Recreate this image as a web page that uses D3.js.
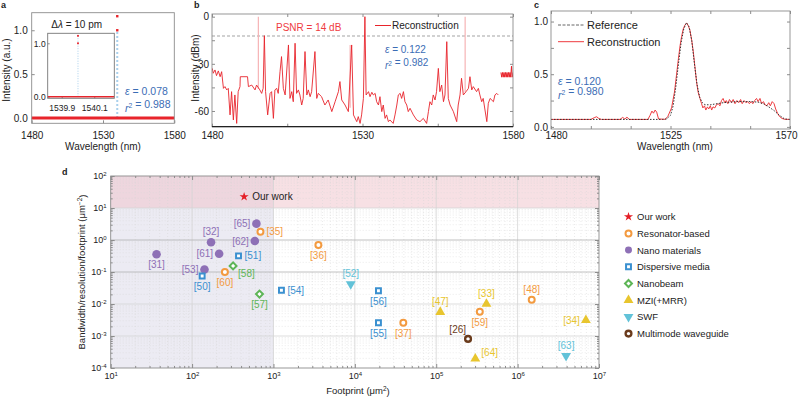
<!DOCTYPE html>
<html>
<head>
<meta charset="utf-8">
<script src="https://cdn.jsdelivr.net/npm/d3@7"></script>
<style>
  body { margin: 0; background: #fff; }
  svg { font-family: "Liberation Sans", Arial, sans-serif; }
</style>
</head>
<body>
<svg id="fig" width="800" height="398"></svg>
<script>
"use strict";

// ---------- panel a : narrow line ----------
const aRange = [1480, 1580];
const aTicks = [1480, 1530, 1580];
const aBaseline = [[1480, 0], [1580, 0]];
const aPeakLambda = 1540;
const aPeaks = [1.0, 1.16];
const insetRange = [1539.814, 1540.223];
const insetTicks = [1539.9, 1540.1];
const insetBaseline = [[1539.814, 0], [1540.223, 0]];
const insetPeakLambda = 1540.0;
const insetPeaks = [1.0, 1.14];

// ---------- panel b : reconstruction in dBm ----------
const bTicks = [1480, 1505, 1530, 1555, 1580];
const bYTicks = [0, -15, -30, -45, -60];
const bPsnrLevel = -12.3;
const bSeries = [
  [1480.1, -32.9], [1480.4, -36.0], [1481.0, -33.9], [1481.5, -37.5], [1482.1, -34.5], [1482.7, -38.2],
  [1483.2, -35.0], [1483.8, -45.6], [1484.3, -44.5], [1484.9, -46.6], [1485.4, -45.6], [1486.0, -62.5],
  [1486.5, -47.7], [1487.1, -65.7], [1487.6, -49.8], [1488.2, -67.9], [1488.7, -47.7], [1489.3, -44.5],
  [1489.4, -38.2], [1491.8, -38.2], [1492.1, -44.5], [1493.2, -43.5], [1494.3, -46.6], [1494.8, -43.5],
  [1495.9, -46.6], [1496.5, -48.8], [1497.0, -45.6], [1497.4, -12.1], [1497.8, -47.7], [1498.5, -62.5],
  [1499.3, -48.8], [1499.8, -47.7], [1500.4, -64.7], [1500.9, -46.6], [1501.5, -45.6], [1502.0, -48.8],
  [1502.6, -35.0], [1503.1, -25.4], [1503.7, -45.6], [1504.3, -49.8], [1505.4, -18.0], [1505.9, -52.0],
  [1506.5, -47.7], [1507.0, -54.1], [1507.6, -16.9], [1508.1, -48.8], [1508.7, -46.6], [1509.2, -49.8],
  [1509.8, -56.2], [1510.3, -52.0], [1510.9, -22.2], [1511.5, -49.8], [1512.0, -46.6], [1512.6, -50.9],
  [1513.1, -47.7], [1514.2, -22.2], [1514.8, -52.0], [1515.3, -48.8], [1516.4, -50.9], [1517.5, -56.2],
  [1518.6, -53.0], [1519.8, -60.4], [1520.9, -54.1], [1522.0, -47.7], [1522.5, -41.3], [1523.1, -53.0],
  [1524.2, -56.2], [1525.3, -60.4], [1526.4, -18.0], [1527.0, -62.5], [1528.1, -66.8], [1528.6, -63.6],
  [1529.2, -67.9], [1529.7, -62.5], [1530.3, -52.0], [1530.8, 0.0], [1531.2, -49.8], [1532.0, -47.7],
  [1532.5, -50.9], [1533.1, -48.1], [1533.6, -49.8], [1534.2, -48.8], [1534.7, -54.1], [1535.3, -56.2],
  [1535.8, -50.9], [1536.4, -60.4], [1536.9, -56.2], [1537.5, -64.7], [1538.0, -62.5], [1538.6, -66.8],
  [1539.1, -65.7], [1540.2, -67.9], [1540.8, -62.5], [1541.4, -56.2], [1541.9, -49.8], [1542.5, -48.8],
  [1543.0, -52.0], [1543.6, -47.7], [1544.1, -54.1], [1544.7, -56.2], [1545.2, -60.4], [1545.8, -58.3],
  [1546.9, -62.5], [1548.0, -65.7], [1549.1, -66.8], [1550.2, -64.7], [1551.3, -67.9], [1551.9, -60.4],
  [1552.4, -54.1], [1553.0, -56.2], [1553.5, -49.8], [1554.1, -53.0], [1554.6, -47.7], [1555.2, -32.9],
  [1555.7, -47.7], [1556.3, -43.5], [1556.9, -54.1], [1557.4, -49.8], [1558.0, -15.9], [1558.5, -52.0],
  [1559.1, -56.2], [1560.2, -60.4], [1561.3, -66.8], [1561.8, -56.2], [1562.4, -49.8], [1562.9, -39.2],
  [1563.5, -49.8], [1564.4, -47.7], [1565.2, -45.6], [1565.7, -38.2], [1566.3, -46.6], [1566.8, -44.5],
  [1567.9, -47.7], [1568.5, -45.6], [1569.0, -49.8], [1569.6, -54.1], [1570.1, -52.0], [1571.3, -66.8],
  [1571.8, -55.1], [1572.4, -52.0], [1573.5, -54.1], [1574.0, -49.8], [1574.6, -48.8], [1575.1, -49.8]
];
const bTail = [
  [1576.0, -35.5], [1576.25, -38.5], [1576.5, -35.5], [1576.75, -38.5], [1577.0, -35.5], [1577.25, -38.5],
  [1577.5, -35.5], [1577.75, -38.5], [1578.0, -35.5], [1578.25, -38.5], [1578.5, -35.5], [1578.75, -38.5],
  [1579.0, -35.5], [1579.25, -38.5], [1579.5, -31.5], [1579.75, -38.5], [1580.0, -35.5]
];
// faint spikes: [wavelength, top, foot]
const bPale = [[1495.4, 0, -46], [1525.9, -18, -58], [1564.1, 0, -48]];

// ---------- panel c : broadband spectrum ----------
const cTicks = [1480, 1495, 1510, 1525, 1540, 1555, 1570];
const cYTicks = [0, 0.25, 0.5, 0.75, 1.0];
const cReference = [
  [1480, 0.071], [1522, 0.071], [1523.5, 0.075], [1525, 0.11], [1526, 0.2], [1527, 0.38], [1528, 0.6],
  [1529, 0.8], [1530, 0.93], [1531, 0.99], [1532, 0.95], [1533, 0.82], [1534, 0.6], [1535, 0.4],
  [1536, 0.28], [1537, 0.23], [1538, 0.21], [1540, 0.21], [1545, 0.23], [1550, 0.24], [1555, 0.24],
  [1558, 0.235], [1560, 0.22], [1562, 0.19], [1564, 0.155], [1566, 0.11], [1568, 0.075], [1570, 0.071]
];
const cReconstruction = [
  [1480, 0.071], [1495, 0.071], [1496.5, 0.09], [1497.2, 0.096], [1498, 0.08], [1499, 0.071],
  [1506, 0.071], [1507, 0.09], [1507.8, 0.075], [1508.6, 0.092], [1509.5, 0.071], [1516.5, 0.071],
  [1517.3, 0.11], [1518, 0.15], [1518.6, 0.13], [1519.2, 0.16], [1519.8, 0.14], [1520.5, 0.075],
  [1523, 0.072], [1524, 0.1], [1525.4, 0.18], [1526.5, 0.33], [1527.3, 0.5], [1528, 0.65], [1528.6, 0.77],
  [1529.2, 0.86], [1529.8, 0.93], [1530.5, 0.97], [1531.1, 0.985], [1531.7, 0.96], [1532.3, 0.92],
  [1533, 0.82], [1533.6, 0.71], [1534.2, 0.57], [1534.8, 0.43], [1535.4, 0.33], [1536.1, 0.27],
  [1536.7, 0.22], [1537.2, 0.18], [1537.8, 0.2], [1538.3, 0.16], [1538.9, 0.19], [1539.4, 0.17],
  [1540, 0.2], [1540.5, 0.16], [1541, 0.19], [1541.7, 0.18], [1542.3, 0.21], [1543, 0.22], [1543.6, 0.2],
  [1544.2, 0.25], [1544.8, 0.27], [1545.4, 0.23], [1546, 0.25], [1546.6, 0.22], [1547.2, 0.26],
  [1548, 0.23], [1548.6, 0.26], [1549.3, 0.22], [1550, 0.25], [1550.7, 0.23], [1551.4, 0.26], [1552, 0.22],
  [1552.7, 0.25], [1553.4, 0.23], [1554, 0.24], [1554.7, 0.22], [1555.4, 0.24], [1556, 0.22],
  [1556.7, 0.25], [1557.4, 0.27], [1558, 0.24], [1558.7, 0.27], [1559.3, 0.22], [1560, 0.24],
  [1560.6, 0.21], [1561.3, 0.2], [1562, 0.23], [1562.6, 0.2], [1563.3, 0.24], [1564, 0.22],
  [1564.6, 0.17], [1565.3, 0.13], [1566, 0.1], [1567, 0.08], [1568, 0.072], [1570, 0.071]
];

// ---------- panel d : footprint comparison [ref, footprint um^2, bandwidth/resolution/footprint] ----------
const ourWork = [["Our work", 436, 22.5]];
const resonator = [["35", 692, 1.82], ["36", 3565, 0.70], ["60", 253, 0.10], ["37", 39400, 0.0026], ["59", 343000, 0.0057], ["48", 1490000, 0.0136]];
const nanoMaterials = [["65", 617, 3.24], ["62", 590, 0.93], ["32", 171, 0.85], ["61", 215, 0.37], ["31", 36.6, 0.36], ["53", 142, 0.12]];
const dispersive = [["51", 372, 0.32], ["50", 133, 0.075], ["54", 1253, 0.027], ["56", 19500, 0.026], ["55", 19500, 0.0026]];
const nanobeam = [["58", 319, 0.155], ["57", 673, 0.0204]];
const mzi = [["47", 112000, 0.0056], ["33", 414000, 0.01], ["34", 6900000, 0.0031], ["64", 302000, 0.000195]];
const swf = [["52", 8900, 0.042], ["63", 3940000, 0.00024]];
const multimode = [["26", 246000, 0.00081]];
const groupNames = ["Our work", "Resonator-based", "Nano materials", "Dispersive media", "Nanobeam", "MZI(+MRR)", "SWF", "Multimode waveguide"];
const labelSide = {
  "35": "r", "36": "b", "60": "b", "37": "b", "59": "b", "48": "t",
  "65": "l", "62": "l", "32": "t", "61": "l", "31": "b", "53": "l",
  "51": "r", "50": "b", "54": "r", "56": "b", "55": "b",
  "58": "br", "57": "b", "47": "t", "33": "t", "34": "l", "64": "tr",
  "52": "t", "63": "t", "26": "tl"
};

// ---------- drawing ----------
const svg = d3.select("#fig");
const RED = "#e8242b", BLUE = "#3b6db5", FRAME = "#8c8c8c", INK = "#222";

function styleAxis(sel, size) {
  sel.attr("font-family", null).attr("font-size", size || 10);
  sel.select(".domain").remove();
  sel.selectAll(".tick line").attr("stroke", FRAME);
  sel.selectAll(".tick text").attr("fill", INK);
}

function frame(g, x, y, stroke) {
  g.append("rect")
    .attr("x", x.range()[0]).attr("y", y.range()[1])
    .attr("width", x.range()[1] - x.range()[0])
    .attr("height", y.range()[0] - y.range()[1])
    .attr("fill", "none").attr("stroke", stroke || FRAME).attr("stroke-width", 0.9);
}

function letter(x, y, s) {
  svg.append("text").attr("x", x).attr("y", y).attr("font-size", 9).attr("font-weight", "bold").attr("fill", INK).text(s);
}

function stat(g, x, y, sym, val, color, size) {
  const t = g.append("text").attr("x", x).attr("y", y).attr("fill", color).attr("font-size", size || 10.5);
  if (sym === "e") {
    t.append("tspan").attr("font-style", "italic").text("\u03b5");
  } else {
    t.append("tspan").attr("font-style", "italic").text("r");
    t.append("tspan").attr("dy", "-0.45em").attr("font-size", "0.65em").text("2");
    t.append("tspan").attr("dy", "0.45em").text("");
  }
  t.append("tspan").text(" = " + val);
}

function yTitle(g, x, y, s, size) {
  g.append("text").attr("transform", "translate(" + x + "," + y + ") rotate(-90)")
    .attr("text-anchor", "middle").attr("font-size", size || 10).attr("fill", INK).text(s);
}

// ===== panel a =====
(function () {
  const g = svg.append("g");
  const x = d3.scaleLinear().domain(aRange).range([31.7, 174.3]);
  const y = d3.scaleLinear().domain([-0.06, 1.2]).range([123.3, 12.7]);
  const line = d3.line().x(d => x(d[0])).y(d => y(d[1]));

  g.append("g").attr("transform", "translate(0,123.3)")
    .call(d3.axisBottom(x).tickValues(aTicks).tickFormat(d3.format("d")).tickSizeInner(-3).tickSizeOuter(0).tickPadding(9))
    .call(styleAxis);
  g.append("g").attr("transform", "translate(31.7,0)")
    .call(d3.axisLeft(y).tickValues([0, 0.5, 1]).tickFormat(d3.format(".1f")).tickSizeInner(-3).tickSizeOuter(0).tickPadding(4))
    .call(styleAxis);

  g.append("line").attr("x1", x(aPeakLambda)).attr("x2", x(aPeakLambda)).attr("y1", y(0)).attr("y2", y(aPeaks[0]))
    .attr("stroke", "#a9d0ec").attr("stroke-width", 2).attr("stroke-dasharray", "2,2");
  g.append("path").datum(aBaseline).attr("d", line).attr("stroke", RED).attr("stroke-width", 3).attr("fill", "none");
  g.selectAll("rect.pk").data(aPeaks).enter().append("rect").attr("class", "pk")
    .attr("x", x(aPeakLambda) - 1.2).attr("y", d => y(d) - 1.2).attr("width", 2.4).attr("height", 2.4).attr("fill", RED);

  // inset
  const ix = d3.scaleLinear().domain(insetRange).range([47.7, 114.3]);
  const iy = d3.scaleLinear().domain([-0.03, 1.187]).range([98.3, 33.3]);
  const iline = d3.line().x(d => ix(d[0])).y(d => iy(d[1]));
  g.append("rect").attr("x", 47.7).attr("y", 33.3).attr("width", 66.6).attr("height", 65).attr("fill", "#fff");
  g.append("g").attr("transform", "translate(0,98.3)")
    .call(d3.axisBottom(ix).tickValues(insetTicks).tickFormat(d3.format(".1f")).tickSizeInner(-2).tickSizeOuter(0).tickPadding(7))
    .call(styleAxis, 8.5);
  g.append("g").attr("transform", "translate(47.7,0)")
    .call(d3.axisLeft(iy).tickValues([0, 1]).tickFormat(d3.format(".1f")).tickSizeInner(-2).tickSizeOuter(0).tickPadding(2))
    .call(styleAxis, 8.5);
  g.append("line").attr("x1", ix(insetPeakLambda)).attr("x2", ix(insetPeakLambda)).attr("y1", iy(0)).attr("y2", iy(insetPeaks[1]))
    .attr("stroke", "#a9d0ec").attr("stroke-width", 1).attr("stroke-dasharray", "1,1.5");
  g.append("path").datum(insetBaseline).attr("d", iline).attr("stroke", RED).attr("stroke-width", 1.6).attr("fill", "none");
  g.selectAll("rect.ipk").data(insetPeaks).enter().append("rect").attr("class", "ipk")
    .attr("x", ix(insetPeakLambda) - 0.9).attr("y", d => iy(d) - 0.9).attr("width", 1.8).attr("height", 1.8).attr("fill", RED);
  frame(g, ix, iy, "#777");
  frame(g, x, y);

  const dl = g.append("text").attr("x", 76.7).attr("y", 27.5).attr("text-anchor", "middle").attr("font-size", 10).attr("fill", INK);
  dl.append("tspan").text("\u0394");
  dl.append("tspan").attr("font-style", "italic").text("\u03bb");
  dl.append("tspan").text(" = 10 pm");
  stat(g, 125, 94.5, "e", "0.078", BLUE);
  stat(g, 125, 111.5, "r", "0.988", BLUE);

  g.append("text").attr("x", 103).attr("y", 150).attr("text-anchor", "middle").attr("font-size", 10).attr("fill", INK).text("Wavelength (nm)");
  yTitle(g, 10, 70, "Intensity (a.u.)");
  letter(1, 8, "a");
})();

// ===== panel b =====
(function () {
  const g = svg.append("g");
  const x = d3.scaleLinear().domain([1480, 1580]).range([212, 513]);
  const y = d3.scaleLinear().domain([-70, 1.7]).range([126.7, 14]);
  const line = d3.line().x(d => x(d[0])).y(d => y(d[1]));

  svg.append("clipPath").attr("id", "clipB").append("rect").attr("x", 212).attr("y", 14).attr("width", 301).attr("height", 112.7);

  g.append("g").attr("transform", "translate(0,126.7)")
    .call(d3.axisBottom(x).tickValues(bTicks).tickFormat(d => d % 50 === 30 || d === 1480 || d === 1580 ? d : "").tickSizeInner(-3).tickSizeOuter(0).tickPadding(5))
    .call(styleAxis);
  g.append("g").attr("transform", "translate(0,14)")
    .call(d3.axisTop(x).tickValues(bTicks).tickFormat("").tickSizeInner(-3).tickSizeOuter(0))
    .call(styleAxis);
  g.append("g").attr("transform", "translate(212,0)")
    .call(d3.axisLeft(y).tickValues(bYTicks).tickFormat(d => d % 30 === 0 ? d : "").tickSizeInner(-3).tickSizeOuter(0).tickPadding(3))
    .call(styleAxis);
  g.append("g").attr("transform", "translate(513,0)")
    .call(d3.axisRight(y).tickValues(bYTicks).tickFormat("").tickSizeInner(-3).tickSizeOuter(0))
    .call(styleAxis);

  g.append("line").attr("x1", 212).attr("x2", 513).attr("y1", y(bPsnrLevel)).attr("y2", y(bPsnrLevel))
    .attr("stroke", "#999").attr("stroke-width", 0.9).attr("stroke-dasharray", "3,2");

  const data = g.append("g").attr("clip-path", "url(#clipB)");
  data.selectAll("line.pale").data(bPale).enter().append("line").attr("class", "pale")
    .attr("x1", d => x(d[0])).attr("x2", d => x(d[0])).attr("y1", d => y(d[2])).attr("y2", d => y(d[1]))
    .attr("stroke", "#f6b3b5").attr("stroke-width", 1.2);
  data.append("path").datum(bSeries).attr("d", line).attr("stroke", RED).attr("stroke-width", 0.9).attr("fill", "none").attr("stroke-linejoin", "round");
  data.append("path").datum(bTail).attr("d", line).attr("stroke", RED).attr("stroke-width", 1).attr("fill", "none");

  frame(g, x, y);
  g.append("line").attr("x1", 212).attr("x2", 513).attr("y1", 126.7).attr("y2", 126.7).attr("stroke", INK).attr("stroke-width", 1.3);

  g.append("text").attr("x", 276).attr("y", 31).attr("font-size", 10).attr("fill", "#ef3b3f").text("PSNR = 14 dB");
  g.append("line").attr("x1", 375).attr("x2", 391).attr("y1", 25.5).attr("y2", 25.5).attr("stroke", RED).attr("stroke-width", 1);
  g.append("text").attr("x", 392).attr("y", 29).attr("font-size", 10).attr("fill", INK).text("Reconstruction");
  stat(g, 385, 53, "e", "0.122", BLUE, 10);
  stat(g, 385, 69, "r", "0.982", BLUE, 10);

  yTitle(g, 199, 68, "Intensity (dBm)");
  letter(194, 8, "b");
})();

// ===== panel c =====
(function () {
  const g = svg.append("g");
  const x = d3.scaleLinear().domain([1480, 1570]).range([551, 790]);
  const y = d3.scaleLinear().domain([-0.02, 1.1]).range([129, 11]);
  const line = d3.line().x(d => x(d[0])).y(d => y(d[1]));

  const bx = g.append("g").attr("transform", "translate(0,129)")
    .call(d3.axisBottom(x).tickValues(cTicks).tickFormat(d => (d - 1480) % 45 === 0 ? d : "").tickSizeInner(-3).tickSizeOuter(0).tickPadding(3))
    .call(styleAxis);
  bx.selectAll(".tick text").attr("dx", d => d === 1480 ? 5 : d === 1570 ? -4 : 0);
  g.append("g").attr("transform", "translate(0,11)")
    .call(d3.axisTop(x).tickValues(cTicks).tickFormat("").tickSizeInner(-3).tickSizeOuter(0))
    .call(styleAxis);
  g.append("g").attr("transform", "translate(551,0)")
    .call(d3.axisLeft(y).tickValues(cYTicks).tickFormat(d => d * 2 % 1 === 0 ? d3.format(".1f")(d) : "").tickSizeInner(-3).tickSizeOuter(0).tickPadding(3))
    .call(styleAxis);
  g.append("g").attr("transform", "translate(790,0)")
    .call(d3.axisRight(y).tickValues(cYTicks).tickFormat("").tickSizeInner(-3).tickSizeOuter(0))
    .call(styleAxis);

  g.append("path").datum(cReconstruction).attr("d", line).attr("stroke", "#ee3b3f").attr("stroke-width", 1).attr("fill", "none");
  g.append("path").datum(cReference).attr("d", line).attr("stroke", "#333").attr("stroke-width", 1).attr("stroke-dasharray", "1.5,1.5").attr("fill", "none");
  frame(g, x, y);

  g.append("line").attr("x1", 558).attr("x2", 584).attr("y1", 25).attr("y2", 25).attr("stroke", "#666").attr("stroke-dasharray", "3,1.5");
  g.append("text").attr("x", 587).attr("y", 29).attr("font-size", 11).attr("fill", INK).text("Reference");
  g.append("line").attr("x1", 558).attr("x2", 584).attr("y1", 41.7).attr("y2", 41.7).attr("stroke", "#ee3b3f");
  g.append("text").attr("x", 587).attr("y", 45.7).attr("font-size", 11).attr("fill", INK).text("Reconstruction");
  stat(g, 558, 85, "e", "0.120", BLUE, 10.5);
  stat(g, 558, 98.5, "r", "0.980", BLUE, 10.5);

  g.append("text").attr("x", 675).attr("y", 149.5).attr("text-anchor", "middle").attr("font-size", 10).attr("fill", INK).text("Wavelength (nm)");
  letter(534, 8, "c");
})();

// ===== panel d =====
(function () {
  const g = svg.append("g");
  const x = d3.scaleLog().domain([10, 1e7]).range([110.7, 599]);
  const y = d3.scaleLog().domain([1e-4, 1e2]).range([368, 176]);

  const styles = [
    { color: "#e41e26", sym: d3.symbolStar, size: 26, fill: true, rot: 0 },
    { color: "#f39a3f", sym: d3.symbolCircle, size: 28, fill: false, rot: 0, sw: 2 },
    { color: "#8e70b6", sym: d3.symbolCircle, size: 58, fill: true, rot: 0 },
    { color: "#3a90d0", sym: d3.symbolSquare, size: 24, fill: false, rot: 0, sw: 2 },
    { color: "#5db556", sym: d3.symbolSquare, size: 24, fill: false, rot: 45, sw: 2 },
    { color: "#e8c52e", sym: d3.symbolTriangle, size: 42, fill: true, rot: 0 },
    { color: "#62c2d8", sym: d3.symbolTriangle, size: 42, fill: true, rot: 180 },
    { color: "#6a3b1c", sym: d3.symbolCircle, size: 26, fill: false, rot: 0, sw: 2.4 }
  ];
  const groups = [ourWork, resonator, nanoMaterials, dispersive, nanobeam, mzi, swf, multimode];

  // shaded zones
  g.append("rect").attr("x", x(10)).attr("y", y(1e2)).attr("width", x(1e3) - x(10)).attr("height", y(1e-4) - y(1e2)).attr("fill", "#ecebf3");
  g.append("rect").attr("x", x(10)).attr("y", y(1e2)).attr("width", x(1e7) - x(10)).attr("height", y(10) - y(1e2)).attr("fill", "#f0c2c9").attr("opacity", 0.5);

  // grid
  const decX = d3.range(1, 7).map(k => Math.pow(10, k));
  const decY = d3.range(-4, 2).map(k => Math.pow(10, k));
  const minorX = [], minorY = [];
  decX.forEach(b => d3.range(2, 10).forEach(m => minorX.push(b * m)));
  decY.forEach(b => d3.range(2, 10).forEach(m => minorY.push(b * m)));
  const grid = g.append("g");
  grid.selectAll("line.mx").data(minorX).enter().append("line")
    .attr("x1", d => x(d)).attr("x2", d => x(d)).attr("y1", 176).attr("y2", 368)
    .attr("stroke", "#d6d6d6").attr("stroke-width", 0.5).attr("stroke-dasharray", "1,2");
  grid.selectAll("line.my").data(minorY).enter().append("line")
    .attr("x1", 110.7).attr("x2", 599).attr("y1", d => y(d)).attr("y2", d => y(d))
    .attr("stroke", "#d6d6d6").attr("stroke-width", 0.5).attr("stroke-dasharray", "1,2");
  grid.selectAll("line.Mx").data(decX.slice(1)).enter().append("line")
    .attr("x1", d => x(d)).attr("x2", d => x(d)).attr("y1", 176).attr("y2", 368)
    .attr("stroke", "#d4d4d4").attr("stroke-width", 0.8);
  grid.selectAll("line.My").data(decY.slice(1)).enter().append("line")
    .attr("x1", 110.7).attr("x2", 599).attr("y1", d => y(d)).attr("y2", d => y(d))
    .attr("stroke", d => d === 1 || d === 0.1 ? "#b0b0b0" : "#d4d4d4").attr("stroke-width", 0.8);

  // axes with 10^n labels
  function powLabels(sel) {
    sel.selectAll(".tick text").each(function (d) {
      const t = d3.select(this).text("");
      const e = Math.round(Math.log10(d));
      if (Math.abs(Math.pow(10, e) - d) / d > 1e-6) return;
      t.append("tspan").text("10");
      t.append("tspan").attr("dy", "-0.55em").attr("font-size", 6).text(e);
    });
  }
  const allX = decX.concat([1e7]).concat(minorX).sort(d3.ascending);
  const allY = [1e-4].concat(decY.slice(1)).concat([1e2]).concat(minorY).sort(d3.ascending);
  const isDec = d => Math.abs(Math.log10(d) - Math.round(Math.log10(d))) < 1e-9;
  const xLab = [10, 100, 1e3, 1e4, 1e5, 1e6, 1e7];
  const yLab = [1e-4, 1e-2, 1, 1e2];

  const bx = g.append("g").attr("transform", "translate(0,368)")
    .call(d3.axisBottom(x).tickValues(allX).tickSizeInner(-2).tickSizeOuter(0).tickPadding(5).tickFormat(d => xLab.includes(d) ? "x" : ""))
    .call(styleAxis, 9);
  bx.selectAll(".tick line").attr("y2", d => isDec(d) ? -4 : -2);
  powLabels(bx);
  const tx = g.append("g").attr("transform", "translate(0,176)")
    .call(d3.axisTop(x).tickValues(allX).tickSizeInner(-2).tickSizeOuter(0).tickFormat(""))
    .call(styleAxis);
  tx.selectAll(".tick line").attr("y2", d => isDec(d) ? 4 : 2);
  const ly = g.append("g").attr("transform", "translate(110.7,0)")
    .call(d3.axisLeft(y).tickValues(allY).tickSizeInner(-2).tickSizeOuter(0).tickPadding(4).tickFormat(d => yLab.some(v => Math.abs(v - d) / v < 1e-6) ? "x" : ""))
    .call(styleAxis, 9);
  ly.selectAll(".tick line").attr("x2", d => isDec(d) ? 4 : 2);
  powLabels(ly);
  const ry = g.append("g").attr("transform", "translate(599,0)")
    .call(d3.axisRight(y).tickValues(allY).tickSizeInner(-2).tickSizeOuter(0).tickFormat(""))
    .call(styleAxis);
  ry.selectAll(".tick line").attr("x2", d => isDec(d) ? -4 : -2);

  g.append("rect").attr("x", 110.7).attr("y", 176).attr("width", 599 - 110.7).attr("height", 192)
    .attr("fill", "none").attr("stroke", FRAME).attr("stroke-width", 0.9);

  // markers and labels
  const symPath = s => d3.symbol().type(s.sym).size(s.size)();
  groups.forEach((pts, gi) => {
    const s = styles[gi];
    pts.forEach(p => {
      const cx = x(p[1]), cy = y(p[2]);
      g.append("path").attr("d", symPath(s))
        .attr("transform", "translate(" + cx + "," + cy + ") rotate(" + s.rot + ")")
        .attr("fill", s.fill ? s.color : "#fff").attr("stroke", s.fill ? "none" : s.color).attr("stroke-width", s.sw || 0);
      if (gi === 0) {
        g.append("text").attr("x", cx + 8).attr("y", cy + 3.5).attr("font-size", 10).attr("fill", INK).text(p[0]);
        return;
      }
      const side = labelSide[p[0]];
      let dx = 0, dy = 0, anchor = "middle";
      if (side === "l") { dx = -6; dy = 3.5; anchor = "end"; }
      if (side === "r") { dx = 6; dy = 3.5; anchor = "start"; }
      if (side === "t") { dy = -7; }
      if (side === "b") { dy = 14; }
      if (side === "br") { dx = 5; dy = 11; anchor = "start"; }
      if (side === "tl") { dx = -2; dy = -6; anchor = "end"; }
      if (side === "tr") { dx = 6; dy = -3; anchor = "start"; }
      g.append("text").attr("x", cx + dx).attr("y", cy + dy).attr("text-anchor", anchor)
        .attr("font-size", 10).attr("fill", s.color).text("[" + p[0] + "]");
    });
  });

  // legend
  const lg = g.append("g");
  groupNames.forEach((name, i) => {
    const s = Object.assign({}, styles[i]);
    const cy = 216.7 + i * 16.7;
    if (i === 2) s.size = 38;
    lg.append("path").attr("d", symPath(s))
      .attr("transform", "translate(628.5," + cy + ") rotate(" + s.rot + ")")
      .attr("fill", s.fill ? s.color : "#fff").attr("stroke", s.fill ? "none" : s.color).attr("stroke-width", s.sw || 0);
    lg.append("text").attr("x", 637).attr("y", cy + 3.5).attr("font-size", 9.5).attr("fill", INK).text(name);
  });

  const xt = g.append("text").attr("x", 358).attr("y", 394).attr("text-anchor", "middle").attr("font-size", 9.5).attr("fill", INK);
  xt.append("tspan").text("Footprint (\u03bcm");
  xt.append("tspan").attr("dy", "-0.45em").attr("font-size", 6.5).text("2");
  xt.append("tspan").attr("dy", "0.45em").text(")");
  const yt = g.append("text").attr("transform", "translate(85,272) rotate(-90)").attr("text-anchor", "middle").attr("font-size", 9.5).attr("fill", INK);
  yt.append("tspan").text("Bandwidth/resolution/footprint (\u03bcm");
  yt.append("tspan").attr("dy", "-0.45em").attr("font-size", 6.5).text("\u22122");
  yt.append("tspan").attr("dy", "0.45em").text(")");
  letter(62, 175, "d");
})();
</script>
</body>
</html>
